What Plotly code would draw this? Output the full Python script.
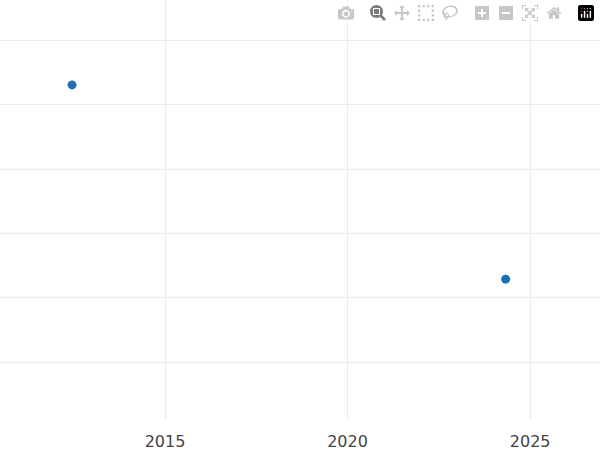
import plotly.graph_objects as go

dates = ["2012-06-15", "2024-05-01"]
values = [4.31, 1.29]

fig = go.Figure(go.Scatter(x=dates, y=values, mode="markers",
                           marker=dict(color="#1f6fb0", size=9)))
fig.update_layout(
    width=600, height=450, margin=dict(l=0, r=0, t=0, b=30),
    plot_bgcolor="white", paper_bgcolor="white", showlegend=False,
    font=dict(family="DejaVu Sans", size=16, color="#444"),
)
fig.update_xaxes(type="date", range=["2010-06-25", "2026-12-01"], dtick="M60",
                 tick0="2015-01-01", tickformat="%Y", showgrid=True,
                 gridcolor="#ebebeb", zeroline=False, showline=False,
                 ticklabelstandoff=10)
fig.update_yaxes(range=[-0.9, 5.63], dtick=1, tick0=0, showticklabels=False,
                 showgrid=True, gridcolor="#ebebeb", zeroline=False, showline=False)
fig.write_html("out.html", post_script="document.body.style.margin='0';")
